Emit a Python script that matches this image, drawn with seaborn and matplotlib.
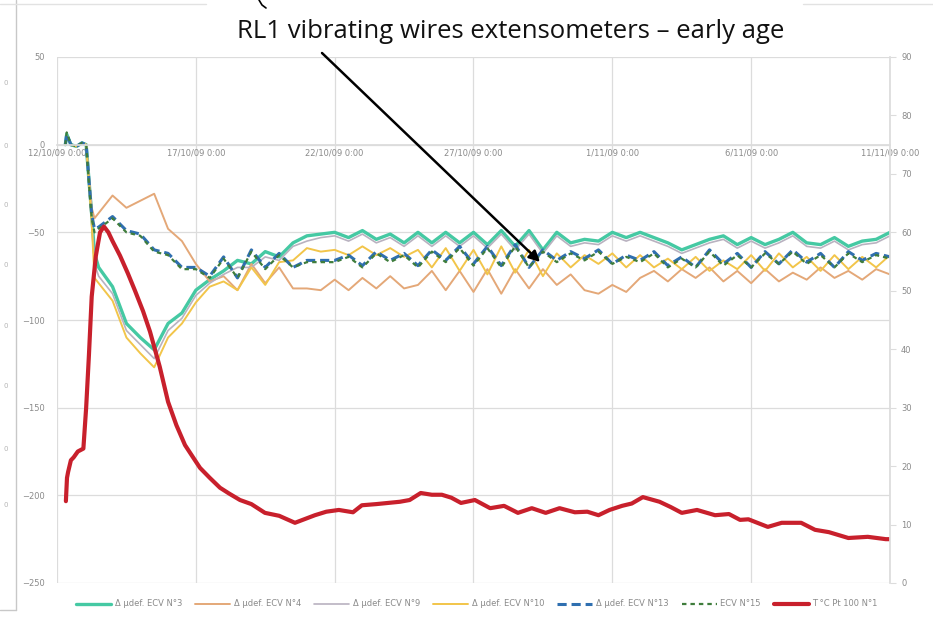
import numpy as np
import pandas as pd
import matplotlib
matplotlib.use("Agg")
import matplotlib.pyplot as plt
import seaborn as sns

# ------------------------------
# Data
# ------------------------------
start = pd.Timestamp("2009-10-12")

# strain readings: a few early points, then one every half day
early_days = [0.3, 0.35, 0.5, 0.7, 0.9, 1.05, 1.15, 1.25, 1.35]
strain_days = early_days + list(np.arange(1.5, 30.01, 0.5))

ecv3 = [0, 6, 0, -1, 1, 0, -20, -40, -62,
        -70, -81, -102, -110, -117, -102, -96, -83, -77, -72,
        -66, -68, -61, -64, -56, -52, -51, -50, -53, -49,
        -54, -51, -56, -50, -56, -50, -56, -50, -57, -49,
        -58, -49, -60, -50, -56, -54, -55, -50, -53, -50,
        -53, -56, -60, -57, -54, -52, -57, -53, -57, -54,
        -50, -56, -57, -53, -58, -55, -54, -50]
ecv4 = [0, 5, 0, -1, 1, 0, -18, -36, -42,
        -39, -29, -36, -32, -28, -48, -55, -68, -78, -75,
        -83, -68, -79, -70, -82, -82, -83, -77, -83, -76,
        -82, -75, -82, -80, -72, -83, -72, -84, -71, -85,
        -71, -82, -71, -80, -74, -83, -85, -80, -84, -76,
        -72, -78, -71, -76, -70, -78, -72, -79, -71, -78,
        -73, -77, -70, -76, -72, -77, -71, -74]
ecv9 = [0, 5, 0, -1, 1, 0, -20, -42, -68,
        -75, -85, -106, -114, -122, -106, -99, -86, -79, -74,
        -70, -70, -64, -66, -58, -55, -53, -52, -55, -51,
        -56, -53, -58, -52, -58, -52, -58, -52, -59, -51,
        -60, -51, -62, -52, -58, -56, -57, -52, -55, -52,
        -55, -58, -62, -59, -56, -54, -59, -55, -59, -56,
        -52, -58, -59, -55, -60, -57, -56, -52]
ecv10 = [0, 5, 0, -1, 1, 0, -22, -45, -76,
         -79, -89, -110, -119, -127, -110, -102, -90, -81, -78,
         -83, -70, -80, -67, -66, -59, -61, -60, -63, -58,
         -63, -59, -64, -60, -70, -59, -72, -60, -74, -58,
         -73, -60, -75, -62, -70, -63, -68, -62, -70, -63,
         -70, -65, -71, -64, -72, -66, -71, -63, -72, -62,
         -70, -64, -72, -63, -71, -64, -70, -63]
ecv13 = [0, 6, 0, -1, 1, 0, -20, -40, -48,
         -47, -41, -49, -51, -60, -62, -70, -70, -75, -64,
         -76, -60, -70, -62, -70, -66, -66, -66, -63, -69,
         -61, -66, -62, -69, -60, -66, -58, -68, -58, -69,
         -57, -70, -60, -66, -61, -65, -60, -68, -63, -66,
         -61, -69, -64, -70, -60, -68, -62, -70, -61, -68,
         -60, -67, -62, -70, -61, -66, -62, -64]
ecv15 = [0, 7, 0, -1, 1, 0, -22, -42, -50,
         -48, -42, -50, -52, -61, -63, -71, -71, -76, -65,
         -76, -61, -71, -63, -70, -67, -67, -67, -64, -70,
         -62, -67, -63, -70, -61, -67, -59, -69, -59, -70,
         -58, -70, -61, -67, -62, -66, -61, -68, -64, -67,
         -62, -70, -65, -70, -61, -69, -63, -70, -62, -68,
         -61, -68, -63, -70, -62, -67, -63, -65]

# temperature probe (right axis, °C)
temp_days = [0.32, 0.36, 0.4, 0.5, 0.6, 0.75, 0.95, 1.05, 1.15, 1.25,
             1.4, 1.55, 1.69, 1.85, 2.0, 2.27, 2.55, 2.81, 3.1, 3.35,
             3.7, 4.0, 4.3, 4.61, 4.9, 5.15, 5.5, 5.87, 6.2, 6.59,
             7.0, 7.49, 8.0, 8.57, 9.29, 9.7, 10.15, 10.66, 10.98, 11.5,
             12.35, 12.7, 13.1, 13.5, 13.86, 14.2, 14.55, 15.05, 15.6, 16.1,
             16.6, 17.1, 17.6, 18.1, 18.65, 19.1, 19.5, 19.9, 20.35, 20.7,
             21.1, 21.7, 22.1, 22.5, 23.05, 23.7, 24.2, 24.6, 24.9, 25.6,
             26.1, 26.8, 27.3, 27.8, 28.5, 29.2, 29.85, 30.0]
temp_pt100 = [14, 18, 19, 21, 21.5, 22.5, 23, 30, 39, 49,
              56, 60, 61, 60, 58.5, 56, 53, 50, 46.5, 43,
              37, 31, 27, 23.6, 21.5, 19.7, 18, 16.3, 15.3, 14.2,
              13.5, 12, 11.5, 10.3, 11.6, 12.2, 12.5, 12.1, 13.3, 13.5,
              13.9, 14.2, 15.4, 15.1, 15.1, 14.6, 13.7, 14.2, 12.8, 13.2,
              12.0, 12.8, 12.0, 12.8, 12.1, 12.2, 11.6, 12.5, 13.2, 13.6,
              14.7, 13.9, 13.0, 12.0, 12.5, 11.6, 11.8, 10.8, 10.9, 9.6,
              10.3, 10.3, 9.1, 8.7, 7.7, 7.9, 7.5, 7.5]

series_names = ["Δ µdef. ECV N°3", "Δ µdef. ECV N°4", "Δ µdef. ECV N°9",
                "Δ µdef. ECV N°10", "Δ µdef. ECV N°13", "ECV N°15"]
temp_name = "T °C Pt 100 N°1"

date_ticks = ["2009-10-12", "2009-10-17", "2009-10-22", "2009-10-27",
              "2009-11-01", "2009-11-06", "2009-11-11"]
date_labels = ["12/10/09 0:00", "17/10/09 0:00", "22/10/09 0:00", "27/10/09 0:00",
               "1/11/09 0:00", "6/11/09 0:00", "11/11/09 0:00"]

title = "RL1 vibrating wires extensometers \u2013 early age"

# ------------------------------
# Styles
# ------------------------------
sns.set_theme(style="white")
plt.rcParams["font.family"] = ["DejaVu Sans"]

styles = [
    dict(color="#45c9a3", lw=2.4, ls="-"),
    dict(color="#e4a878", lw=1.4, ls="-"),
    dict(color="#b9b2c0", lw=1.2, ls="-"),
    dict(color="#f2c54a", lw=1.4, ls="-"),
    dict(color="#2f6fb0", lw=2.2, ls=(0, (3, 1.6))),
    dict(color="#3f7d3c", lw=1.6, ls=(0, (2, 1.8))),
]
grid_c = "#dcdcdc"
text_c = "#8a8a8a"

W, H = 933, 620
fig = plt.figure(figsize=(W / 100, H / 100), dpi=100)
ax = fig.add_axes([57 / W, 1 - 583 / H, (890 - 57) / W, (583 - 57) / H])

t_strain = start + pd.to_timedelta(strain_days, unit="D")
t_temp = start + pd.to_timedelta(temp_days, unit="D")

strain_df = pd.DataFrame({"time": t_strain})
for name, vals in zip(series_names, [ecv3, ecv4, ecv9, ecv10, ecv13, ecv15]):
    strain_df[name] = vals

for name, st in zip(series_names, styles):
    sns.lineplot(data=strain_df, x="time", y=name, ax=ax, color=st["color"],
                 linewidth=st["lw"], linestyle=st["ls"], label=name, legend=False)

ax.set_xlim(start, start + pd.Timedelta(days=30))
ax.set_ylim(-250, 50)
ax.set_yticks(range(-250, 51, 50))
ax.set_xticks(pd.to_datetime(date_ticks))
ax.set_xticklabels(date_labels)
ax.set_xlabel("")
ax.set_ylabel("")
ax.grid(True, color=grid_c, lw=0.9)
for s in ["top", "left", "right"]:
    ax.spines[s].set_visible(False)
ax.spines["bottom"].set_position(("data", 0))
ax.spines["bottom"].set_color(grid_c)
ax.tick_params(axis="x", length=0, pad=3, labelsize=6, labelcolor=text_c)
ax.tick_params(axis="y", length=0, pad=9, labelsize=6, labelcolor=text_c)

# temperature on the secondary axis
ax2 = ax.twinx()
temp_df = pd.DataFrame({"time": t_temp, temp_name: temp_pt100})
sns.lineplot(data=temp_df, x="time", y=temp_name, ax=ax2, color="#c8202c",
             linewidth=3.0, label=temp_name, legend=False)
ax2.set_ylim(0, 90)
ax2.set_yticks(range(0, 91, 10))
ax2.set_ylabel("")
ax2.grid(False)
for s in ["top", "left", "bottom"]:
    ax2.spines[s].set_visible(False)
ax2.spines["right"].set_color(grid_c)
ax2.tick_params(axis="y", length=4, width=0.8, color=grid_c, pad=4,
                labelsize=6, labelcolor=text_c)

# legend below the plot
h1, l1 = ax.get_legend_handles_labels()
h2, l2 = ax2.get_legend_handles_labels()
fig.legend(h1 + h2, l1 + l2, loc="center", ncol=7, frameon=False,
           bbox_to_anchor=(477 / W, 1 - 604 / H), fontsize=6, labelcolor=text_c,
           handlelength=4.2, handletextpad=0.4, columnspacing=1.6)

# title overlay and arrow
fig.text(511 / W, 1 - 32 / H, title, ha="center", va="center", fontsize=18.5,
         family=["Open Sans", "DejaVu Sans"], color="#111111")
# cropped bracket fragment at the very top of the overlay
fig.add_artist(plt.Line2D([259 / W, 262 / W, 266 / W], [1.0, 1 - 5 / H, 1 - 8 / H],
                          color="black", lw=1.2))
ax2.annotate("", xy=(540 / W, 1 - 262 / H), xytext=(322 / W, 1 - 53 / H),
             xycoords="figure fraction", textcoords="figure fraction",
             arrowprops=dict(arrowstyle="-|>", color="black", lw=1.8,
                             mutation_scale=16, shrinkA=0, shrinkB=0))

# page edges of the surrounding screenshot
fig.add_artist(plt.Line2D([16 / W, 16 / W], [1.0, 1 - 610 / H], color="#c8c8c8", lw=1))
fig.add_artist(plt.Line2D([0, 16 / W], [1 - 610 / H, 1 - 610 / H], color="#c8c8c8", lw=1))
fig.add_artist(plt.Line2D([0, 206 / W], [1 - 4 / H, 1 - 4 / H], color="#e2e2e2", lw=1))
fig.add_artist(plt.Line2D([803 / W, 1], [1 - 4 / H, 1 - 4 / H], color="#e2e2e2", lw=1))
for yy in [83, 146, 205, 265, 326, 386, 449, 505]:
    fig.text(3 / W, 1 - yy / H, "0", fontsize=5, color="#b5b5b5", va="center")

fig.savefig("out.png", dpi=100)
